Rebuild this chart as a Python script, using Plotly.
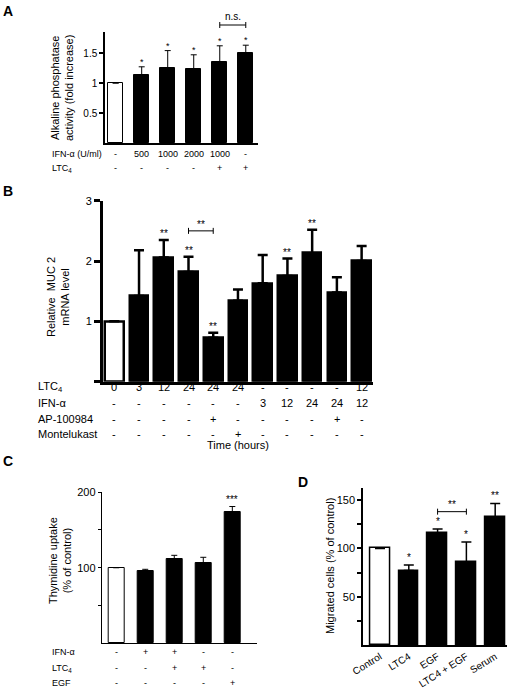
import plotly.graph_objects as go

W, H = 510, 690
FONT = "Liberation Sans, Arial, Helvetica, sans-serif"

# ---------------- data ----------------
# Panel A: alkaline phosphatase activity (fold increase)
a_values = [1.0, 1.13, 1.25, 1.23, 1.35, 1.50]
a_err = [0.0, 0.14, 0.29, 0.24, 0.27, 0.13]
a_sig = ["", "*", "*", "*", "*", "*"]
a_row_names = ["IFN-α (U/ml)", "LTC<sub>4</sub>"]
a_row_ifn = ["-", "500", "1000", "2000", "1000", "-"]
a_row_ltc = ["-", "-", "-", "-", "+", "+"]
a_ticks = [0.5, 1, 1.5]
a_tick_labels = ["0.5", "1", "1.5"]

# Panel B: relative MUC2 mRNA level
b_values = [1.0, 1.42, 2.06, 1.82, 0.73, 1.34, 1.63, 1.75, 2.13, 1.48, 2.00]
b_err = [0.0, 0.76, 0.29, 0.25, 0.08, 0.19, 0.47, 0.29, 0.39, 0.25, 0.25]
b_sig = ["", "", "**", "**", "**", "", "", "**", "**", "", ""]
b_row_names = ["LTC<sub>4</sub>", "IFN-α", "AP-100984", "Montelukast"]
b_row_ltc = ["0", "3", "12", "24", "24", "24", "-", "-", "-", "-", "12"]
b_row_ifn = ["-", "-", "-", "-", "-", "-", "3", "12", "24", "24", "12"]
b_row_ap = ["-", "-", "-", "-", "+", "-", "-", "-", "-", "+", "-"]
b_row_mon = ["-", "-", "-", "-", "-", "+", "-", "-", "-", "-", "-"]
b_ticks = [1, 2, 3]
b_tick_labels = ["1", "2", "3"]
b_minor_ticks = [0]

# Panel C: thymidine uptake (% of control)
c_values = [100, 96, 111, 106.6, 174]
c_err = [0, 1.8, 5.3, 7.1, 6.8]
c_sig = ["", "", "", "", "***"]
c_row_names = ["IFN-α", "LTC<sub>4</sub>", "EGF"]
c_row_ifn = ["-", "+", "+", "-", "-"]
c_row_ltc = ["-", "-", "+", "+", "-"]
c_row_egf = ["-", "-", "-", "-", "+"]
c_ticks = [100, 200]
c_tick_labels = ["100", "200"]
c_minor_ticks = [50, 150]

# Panel D: migrated cells (% of control)
d_categories = ["Control", "LTC4", "EGF", "LTC4 + EGF", "Serum"]
d_values = [100, 77.0, 116.0, 85.5, 132.5]
d_err = [0.4, 5.8, 4.0, 21.0, 14.0]
d_sig = ["", "*", "*", "*", "**"]
d_ticks = [50, 100, 150]
d_tick_labels = ["50", "100", "150"]
d_minor_ticks = [25, 75, 125]


def px(p):
    return p / W


def py(p):
    return 1 - p / H


fig = go.Figure()


def add_bars(vals, err, xa, ya, width, lw, ew, ecap):
    n = len(vals)
    colors = ["white"] + ["black"] * (n - 1)
    fig.add_trace(go.Bar(
        x=list(range(n)), y=vals, width=width,
        marker=dict(color=colors, line=dict(color="black", width=lw)),
        error_y=dict(type="data", array=err, arrayminus=[0] * n, symmetric=False,
                     color="black", thickness=ew, width=ecap),
        xaxis=xa, yaxis=ya, showlegend=False, hoverinfo="skip"))


add_bars(a_values, a_err, "x", "y", 0.56, 1, 1, 3)
add_bars(b_values, b_err, "x2", "y2", 0.75, 2.5, 2.5, 5)
add_bars(c_values, c_err, "x3", "y3", 0.55, 1, 1, 3)
add_bars(d_values, d_err, "x4", "y4", 0.69, 1.5, 1.5, 5)

ann = []
shapes = []


def stars(vals, err, sig, xr, yr, size, shift):
    for i, s in enumerate(sig):
        if s:
            ann.append(dict(x=i, y=vals[i] + err[i], xref=xr, yref=yr, text=s,
                            showarrow=False, yanchor="bottom", yshift=shift,
                            font=dict(size=size)))


stars(a_values, a_err, a_sig, "x", "y", 9, -2)
stars(b_values, b_err, b_sig, "x2", "y2", 10, -1)
stars(c_values, c_err, c_sig, "x3", "y3", 10, 0)
stars(d_values, d_err, d_sig, "x4", "y4", 10, 0)


def bracket(i, j, y, xr, yr, text, lw, size, shift):
    line = dict(color="black", width=lw)
    shapes.append(dict(type="line", xref=xr, yref=yr, x0=i, x1=j, y0=y, y1=y, line=line))
    for k in (i, j):
        shapes.append(dict(type="line", xref=xr, yref=yr, ysizemode="pixel", yanchor=y,
                           x0=k, x1=k, y0=-3, y1=3, line=line))
    ann.append(dict(x=(i + j) / 2, y=y, xref=xr, yref=yr, text=text, showarrow=False,
                    yanchor="bottom", yshift=shift, font=dict(size=size)))


bracket(4, 5, 1.063, "x", "y domain", "n.s.", 1, 10, 1)
bracket(3, 4, 2.5, "x2", "y2", "**", 1, 10, -1)
bracket(2, 3, 138, "x4", "y4", "**", 1, 10, 0)


def rows(names, values_list, ys, xr, name_x, size):
    for name, vals, yy in zip(names, values_list, ys):
        ann.append(dict(x=px(name_x), y=py(yy), xref="paper", yref="paper", text=name,
                        xanchor="left", yanchor="middle", showarrow=False, font=dict(size=size)))
        for i, v in enumerate(vals):
            ann.append(dict(x=i, y=py(yy), xref=xr, yref="paper", text=v,
                            xanchor="center", yanchor="middle", showarrow=False,
                            font=dict(size=size)))


rows(a_row_names, [a_row_ifn, a_row_ltc], [154, 168], "x", 50, 9)
rows(b_row_names, [b_row_ltc, b_row_ifn, b_row_ap, b_row_mon], [387, 402.5, 419, 434], "x2", 36, 11)
rows(c_row_names, [c_row_ifn, c_row_ltc, c_row_egf], [652, 668, 683], "x3", 50, 9)

ann.append(dict(x=0.5, y=py(445), xref="x2 domain", yref="paper", text="Time (hours)",
                showarrow=False, xanchor="center", yanchor="middle", font=dict(size=11)))

# y titles
for text, x, y in [("Alkaline phosphatase<br>activity (fold increase)", 62, 88),
                   ("Relative\u00a0\u00a0MUC 2<br>mRNA level", 58, 297),
                   ("Thymidine uptake<br>(% of control)", 60, 561),
                   ("Migrated cells (% of control)", 330, 566)]:
    ann.append(dict(x=px(x), y=py(y), xref="paper", yref="paper", text=text, textangle=-90,
                    showarrow=False, xanchor="center", yanchor="middle", font=dict(size=11)))

# panel letters
for text, x, y in [("A", 8, 11), ("B", 8, 191), ("C", 8, 461), ("D", 303, 482)]:
    ann.append(dict(x=px(x), y=py(y), xref="paper", yref="paper", text="<b>%s</b>" % text,
                    showarrow=False, xanchor="center", yanchor="middle", font=dict(size=14)))

common_x = dict(showgrid=False, zeroline=False, showline=True, linecolor="black",
                ticks="", fixedrange=True, automargin=False)
common_y = dict(showgrid=False, zeroline=False, showline=True, linecolor="black",
                ticks="outside", tickcolor="black", fixedrange=True, automargin=False)


def minor(vals, ln, wd):
    return dict(tickmode="array", tickvals=vals, ticks="outside", ticklen=ln, tickwidth=wd,
                tickcolor="black", showgrid=False)


fig.update_layout(
    template="none",
    width=W, height=H, margin=dict(l=0, r=0, t=0, b=0, pad=0), autosize=False,
    paper_bgcolor="white", plot_bgcolor="white",
    font=dict(family=FONT, size=11, color="black"),
    bargap=0, showlegend=False,
    xaxis=dict(domain=[px(105), px(258)], range=[-0.41, 5.47], showticklabels=False,
               linewidth=1.5, anchor="y", **common_x),
    yaxis=dict(domain=[py(143), py(32)], range=[0, 1.85], tickvals=a_ticks, ticktext=a_tick_labels,
               ticklen=4, tickwidth=1.5, linewidth=1.5, anchor="x", tickfont=dict(size=10), **common_y),
    xaxis2=dict(domain=[px(103), px(373)], range=[-0.457, 10.46], showticklabels=False,
                linewidth=3, anchor="y2", **common_x),
    yaxis2=dict(domain=[py(381.7), py(200.7)], range=[0, 3], tickvals=b_ticks, ticktext=b_tick_labels,
                ticklen=6, tickwidth=2.5, linewidth=3, anchor="x2", minor=minor(b_minor_ticks, 6, 2.5),
                **common_y),
    xaxis3=dict(domain=[px(101.7), px(256.7)], range=[-0.50, 4.84], showticklabels=False,
                linewidth=1, anchor="y3", **common_x),
    yaxis3=dict(domain=[py(643.3), py(492)], range=[0, 200], tickvals=c_ticks, ticktext=c_tick_labels,
                ticklen=3, tickwidth=1, linewidth=1, anchor="x3", minor=minor(c_minor_ticks, 3, 1),
                **common_y),
    xaxis4=dict(domain=[px(363.3), px(506.7)], range=[-0.58, 4.40], tickvals=list(range(len(d_categories))),
                ticktext=d_categories, tickangle=-32, tickfont=dict(size=10),
                linewidth=2, anchor="y4", **common_x),
    yaxis4=dict(domain=[py(645), py(488)], range=[0, 162.5], tickvals=d_ticks, ticktext=d_tick_labels,
                ticklen=4, tickwidth=1.5, linewidth=2, anchor="x4", tickfont=dict(size=11),
                minor=minor(d_minor_ticks, 4, 1.5), **common_y),
    annotations=ann, shapes=shapes,
)

fig.write_html("out.html", config={"displayModeBar": False},
               post_script="document.body.style.margin='0px';")
